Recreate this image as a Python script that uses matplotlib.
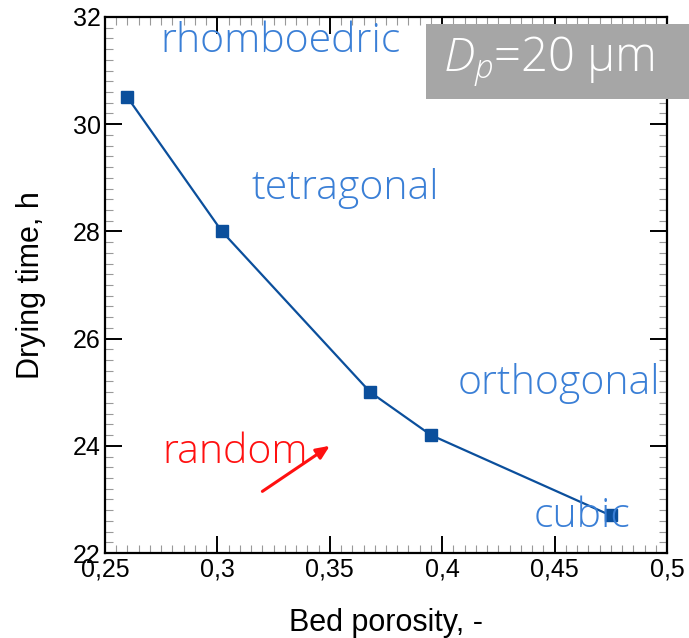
import numpy as np
import matplotlib
matplotlib.use("Agg")
import matplotlib.pyplot as plt
from matplotlib.patches import Rectangle
from matplotlib.ticker import MultipleLocator, FuncFormatter

plt.rcParams['font.family'] = ['Liberation Sans', 'DejaVu Sans']
plt.rcParams['mathtext.fontset'] = 'custom'
plt.rcParams['mathtext.it'] = 'Open Sans:italic:light'
plt.rcParams['mathtext.rm'] = 'Open Sans:light'

# data
porosity = [0.26, 0.302, 0.368, 0.395, 0.475]
drying_time = [30.5, 28.0, 25.0, 24.2, 22.7]

packings = ["rhomboedric", "tetragonal", "orthogonal", "random", "cubic"]
label_x = [0.2745, 0.315, 0.407, 0.2754, 0.4408]
label_y = [31.35, 28.61, 24.97, 23.67, 22.49]
label_colors = ["#3a7fd6", "#3a7fd6", "#3a7fd6", "#ff1010", "#3a7fd6"]

fig = plt.figure(figsize=(6.89, 6.38), dpi=100)
ax = fig.add_axes([0.1524, 0.1332, 0.8157, 0.8402])

ax.plot(porosity, drying_time, color="#0b4f9c", linewidth=1.6,
        marker="s", markersize=9, markerfacecolor="#0b4f9c", markeredgecolor="#0b4f9c")

ax.set_xlim(0.25, 0.5)
ax.set_ylim(22, 32)
ax.xaxis.set_major_locator(MultipleLocator(0.05))
ax.xaxis.set_minor_locator(MultipleLocator(0.005))
ax.yaxis.set_major_locator(MultipleLocator(2))
ax.yaxis.set_minor_locator(MultipleLocator(0.2))

def comma_fmt(v, pos):
    s = f"{v:.2f}".rstrip("0").rstrip(".")
    return s.replace(".", ",")

ax.xaxis.set_major_formatter(FuncFormatter(comma_fmt))
ax.yaxis.set_major_formatter(FuncFormatter(lambda v, p: f"{v:.0f}"))

ax.tick_params(which="both", direction="in", top=True, right=True)
ax.tick_params(which="major", length=12, width=1.4, labelsize=18, pad=3)
ax.tick_params(which="minor", length=6, width=0.8, color="#999999")
for sp in ax.spines.values():
    sp.set_linewidth(1.6)

ax.set_xlabel("Bed porosity, -", fontsize=22, labelpad=19)
ax.set_ylabel("Drying time, h", fontsize=22, labelpad=19)

for name, x, y, c in zip(packings, label_x, label_y, label_colors):
    ax.text(x, y, name, color=c, fontsize=29.5, ha="left", va="baseline",
            family="Open Sans", fontweight="light")

ax.annotate("", xy=(0.35, 24.0), xytext=(0.32, 23.15),
            arrowprops=dict(arrowstyle="-|>,head_width=0.35,head_length=0.8",
                            color="#ff1010", lw=2.2, shrinkA=0, shrinkB=0))

box = Rectangle((0.618, 0.845), 0.4, 0.117, transform=fig.transFigure,
                facecolor="#a6a6a6", edgecolor="none", zorder=5)
fig.patches.append(box)
fig.text(0.796, 0.903, r"$D_p$=20 μm", color="white", fontsize=34,
         ha="center", va="center", zorder=6, family="Open Sans", fontweight="light")

fig.savefig("out.png", dpi=100)
